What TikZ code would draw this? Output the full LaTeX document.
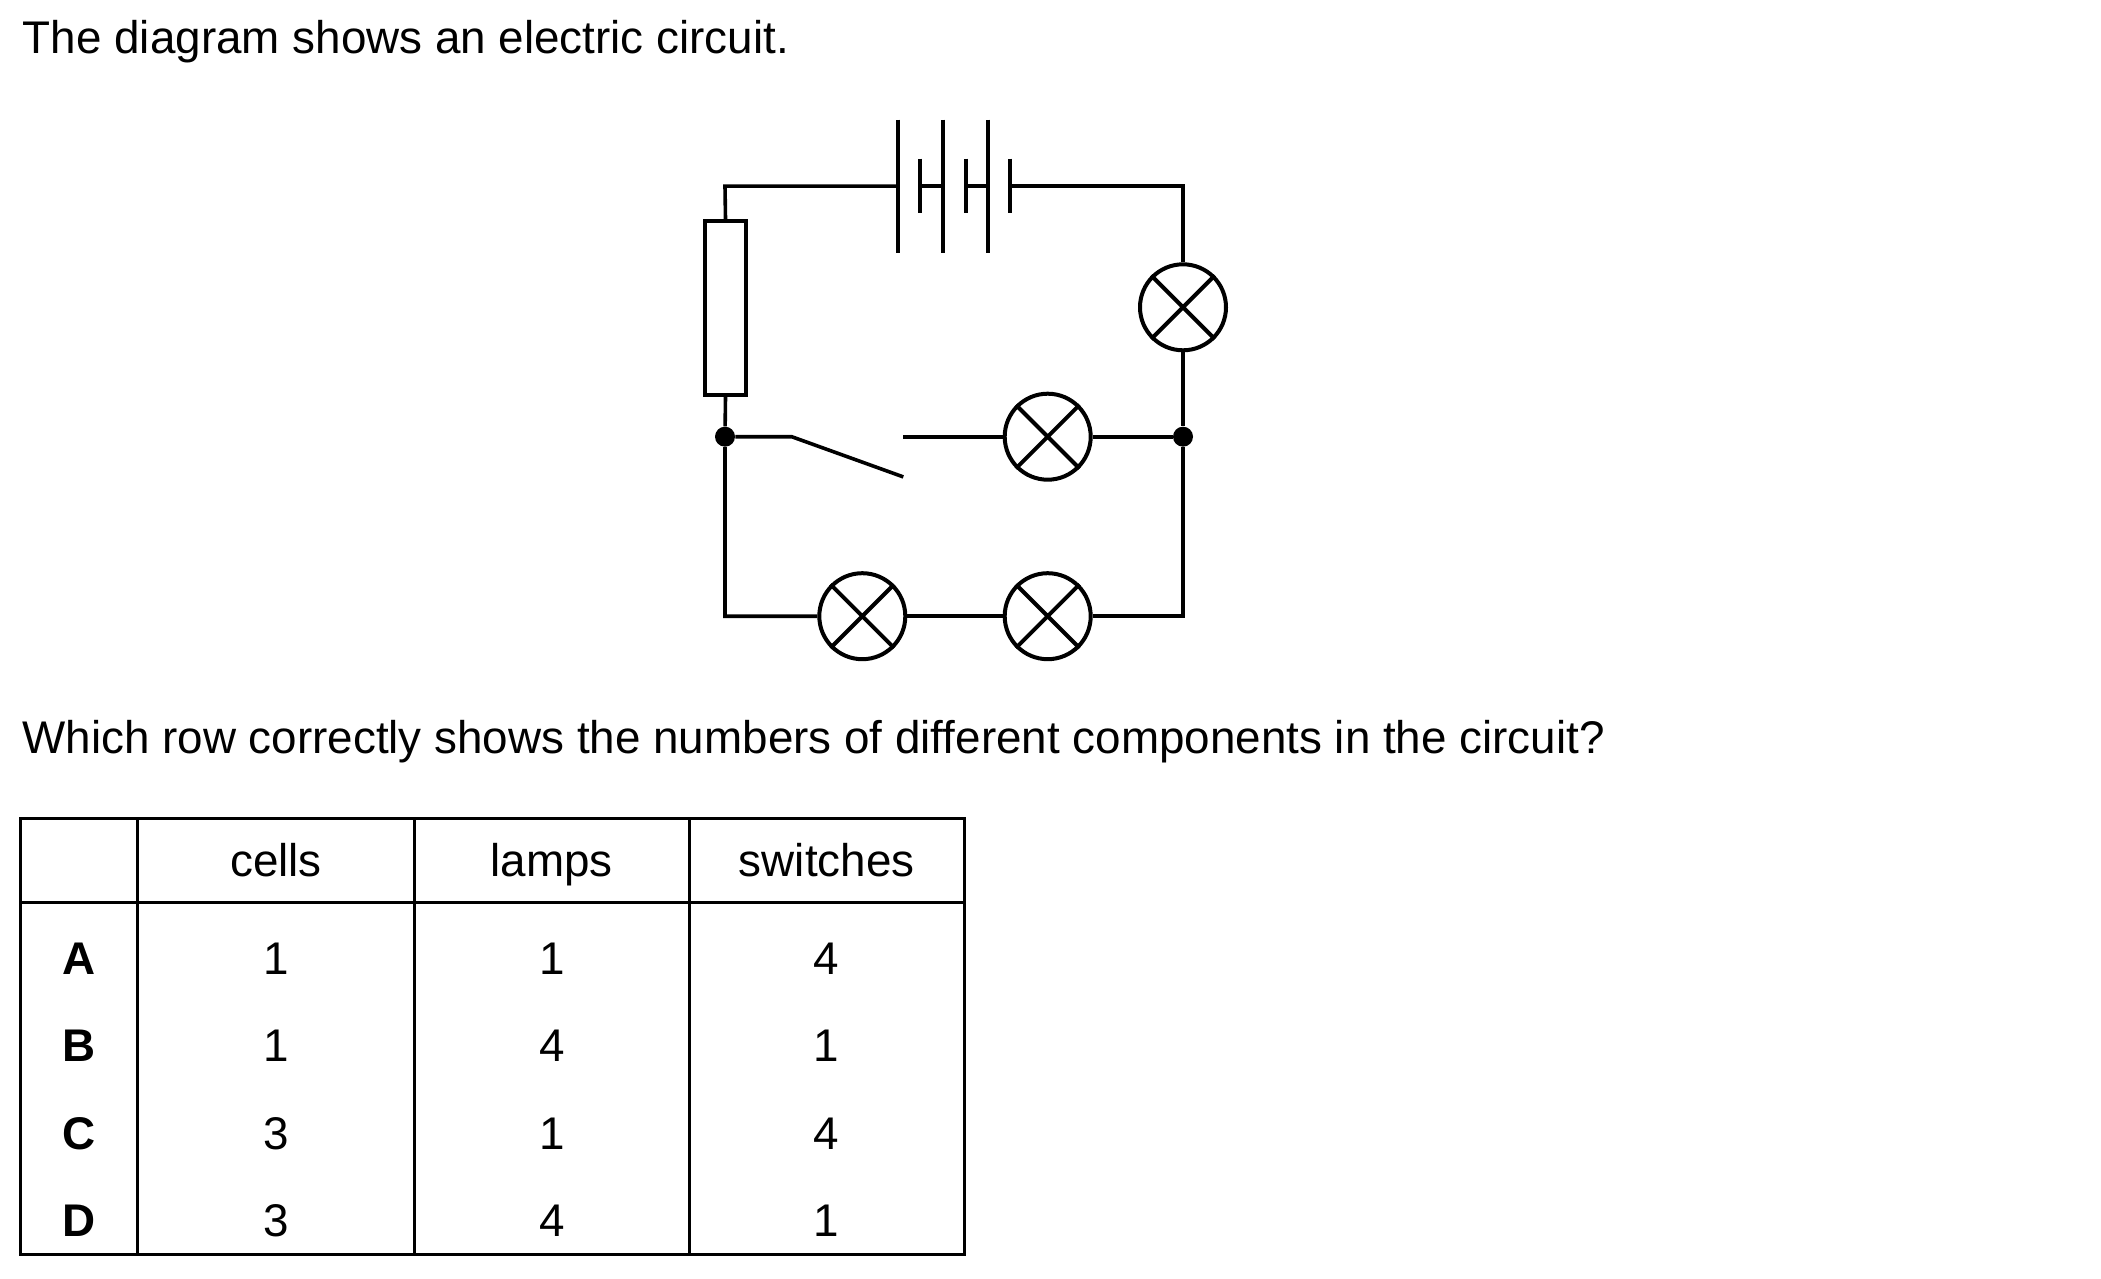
\documentclass[tikz,border=0pt]{standalone}
\usepackage{fontspec}
\setmainfont{Liberation Sans}
\begin{document}
\begin{tikzpicture}[x=0.5pt,y=-0.5pt,
  wire/.style={line width=1.8pt},
  comp/.style={line width=2pt},
  plate/.style={line width=2pt},
  grid/.style={line width=1.5pt},
  lamp/.style={circle,draw,line width=2pt,minimum size=43pt,inner sep=0pt},
  junc/.style={circle,fill,minimum size=10pt,inner sep=0pt},
  txt/.style={font=\fontsize{22.9}{26}\selectfont,inner sep=0pt},
  lbl/.style={txt,anchor=base,font=\fontsize{22.9}{26}\selectfont\bfseries},
  num/.style={txt,anchor=base}]
\useasboundingbox (0,0) rectangle (2101,1279);

% texts
\node[txt,anchor=base west] (title) at (22.5,54) {The diagram shows an electric circuit.};
\node[txt,anchor=base west] (question) at (22,753) {Which row correctly shows the numbers of different components in the circuit?};

% circuit components
\node[lamp] (L1) at (1183,307.3) {};
\node[lamp] (L2) at (1047.7,436.7) {};
\node[lamp] (L3) at (862.3,616.2) {};
\node[lamp] (L4) at (1047.7,616.2) {};
\foreach \l in {L1,L2,L3,L4}
  \draw[comp] (\l.north west) -- (\l.south east) (\l.north east) -- (\l.south west);

\node[draw,comp,rectangle,minimum width=20.8pt,minimum height=87pt,inner sep=0pt] (R) at (725.5,308) {};

\node[junc] (J1) at (725,436.7) {};
\node[junc] (J2) at (1183,436.7) {};

\coordinate (TL) at (725,186.1);
\coordinate (TR) at (1183,186.1);
\coordinate (BL) at (725,616.2);
\coordinate (BR) at (1183,616.2);
\coordinate (S1) at (791.7,436.7);
\coordinate (S2) at (903.3,476.9);
\coordinate (S3) at (903.3,436.7);

% cells
\coordinate (B1a) at (898.3,186.1);
\coordinate (B1b) at (920,186.1);
\coordinate (B2a) at (943.3,186.1);
\coordinate (B2b) at (965.7,186.1);
\coordinate (B3a) at (988.3,186.1);
\coordinate (B3b) at (1010,186.1);
\foreach \p in {B1a,B2a,B3a}
  \draw[plate] ([yshift=33.2pt]\p) -- ([yshift=-33.2pt]\p);
\foreach \p in {B1b,B2b,B3b}
  \draw[plate] ([yshift=13.7pt]\p) -- ([yshift=-13.7pt]\p);

% wires
\draw[wire] (R.north) -- (TL) -- (B1a);
\draw[wire] (B1b) -- (B2a);
\draw[wire] (B2b) -- (B3a);
\draw[wire] (B3b) -- (TR) -- (L1.north);
\draw[wire] (L1.south) -- (J2) -- (BR) -- (L4.east);
\draw[wire] (L4.west) -- (L3.east);
\draw[wire] (L3.west) -- (BL) -- (J1) -- (R.south);
\draw[wire] (J1) -- (S1) -- (S2);
\draw[wire] (S3) -- (L2.west);
\draw[wire] (L2.east) -- (J2);

% table
\draw[grid] (20,818.3) rectangle (964,1254.3);
\draw[grid] (20,902.7) -- (964,902.7);
\foreach \x in {137.7,414.3,689.3}
  \draw[grid] (\x,818.3) -- (\x,1254.3);

\node[num] (hc) at (276,876) {cells};
\node[num] (hl) at (551.8,876) {lamps};
\node[num] (hs) at (826.7,876) {switches};

\node[lbl] (rA) at (78.9,974) {A};
\node[lbl] (rB) at (78.9,1061.6) {B};
\node[lbl] (rC) at (78.9,1149.2) {C};
\node[lbl] (rD) at (78.9,1236.7) {D};

\node[num] (a1) at (276,974) {1};
\node[num] (a2) at (551.8,974) {1};
\node[num] (a3) at (826.7,974) {4};
\node[num] (b1) at (276,1061.6) {1};
\node[num] (b2) at (551.8,1061.6) {4};
\node[num] (b3) at (826.7,1061.6) {1};
\node[num] (c1) at (276,1149.2) {3};
\node[num] (c2) at (551.8,1149.2) {1};
\node[num] (c3) at (826.7,1149.2) {4};
\node[num] (d1) at (276,1236.7) {3};
\node[num] (d2) at (551.8,1236.7) {4};
\node[num] (d3) at (826.7,1236.7) {1};
\end{tikzpicture}
\end{document}
